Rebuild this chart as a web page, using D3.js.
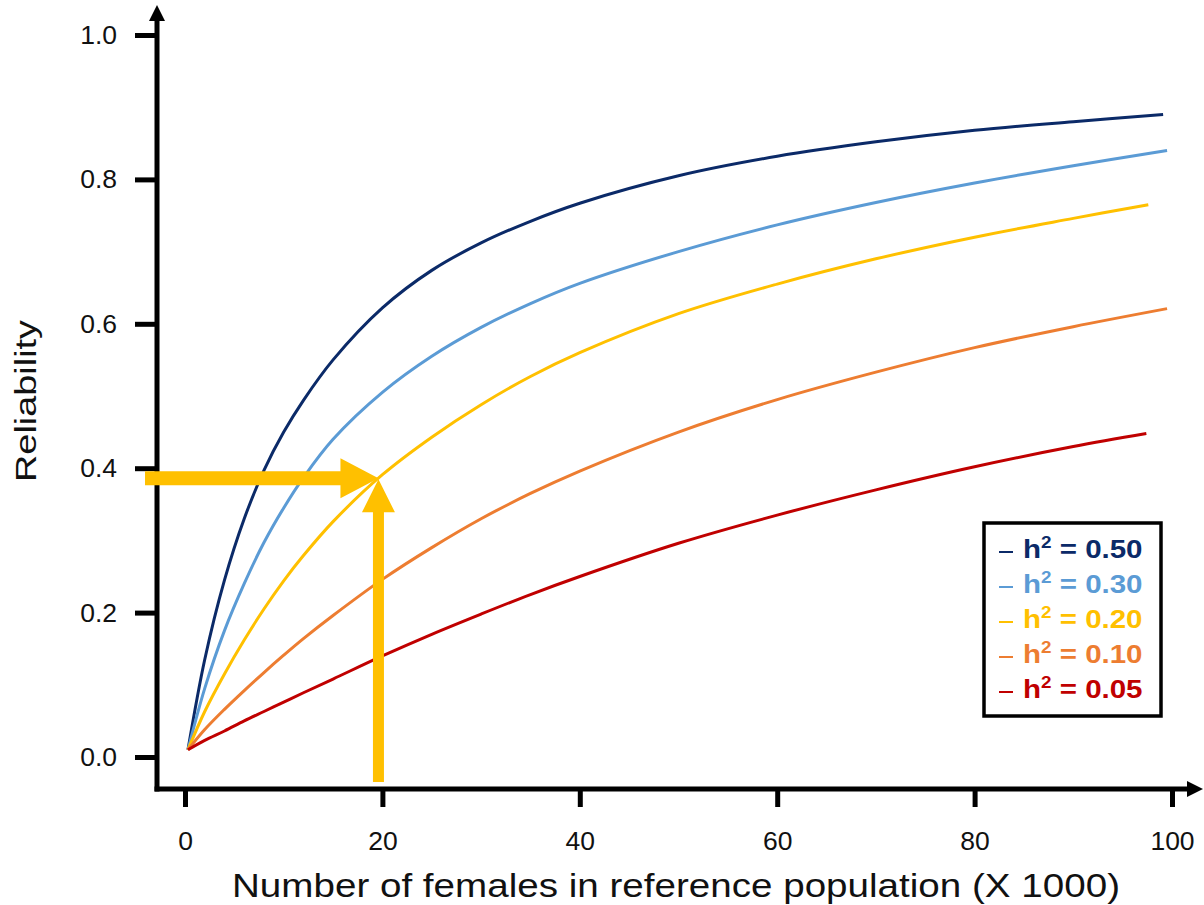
<!DOCTYPE html>
<html>
<head>
<meta charset="utf-8">
<script src="https://cdn.jsdelivr.net/npm/d3@7"></script>
<style>
    body { margin: 0; background: #fff; }
    text { font-family: "Liberation Sans", Arial, sans-serif; }
</style>
</head>
<body>
<div id="chart"></div>
<script>
// values (x in thousands of females)
var xValues = [0.3, 2, 4, 6, 8, 10, 12, 15, 20, 25, 30, 35, 40, 50, 60, 70, 80, 90];

var h50 = [0.01, 0.135, 0.245, 0.33, 0.397, 0.45, 0.494, 0.55, 0.622, 0.674, 0.712, 0.742, 0.767, 0.805, 0.832, 0.852, 0.868, 0.880];
var h30 = [0.01, 0.095, 0.175, 0.24, 0.297, 0.345, 0.387, 0.44, 0.505, 0.555, 0.595, 0.628, 0.656, 0.700, 0.737, 0.768, 0.795, 0.819];
var h20 = [0.01, 0.063, 0.115, 0.162, 0.205, 0.244, 0.279, 0.326, 0.391, 0.443, 0.488, 0.527, 0.56, 0.614, 0.655, 0.69, 0.72, 0.746];
var h10 = [0.01, 0.038, 0.066, 0.092, 0.117, 0.141, 0.164, 0.196, 0.246, 0.29, 0.33, 0.365, 0.396, 0.45, 0.495, 0.533, 0.567, 0.596];
var h05 = [0.01, 0.023, 0.036, 0.05, 0.063, 0.076, 0.089, 0.108, 0.14, 0.17, 0.198, 0.225, 0.25, 0.296, 0.335, 0.37, 0.402, 0.43];

// last point of every curve (they stop at slightly different x)
var lastX = [99.1, 99.5, 97.6, 99.5, 97.4];
var lastY = [0.890, 0.840, 0.765, 0.621, 0.448];

var seriesNames = ["0.50", "0.30", "0.20", "0.10", "0.05"];
var seriesColors = ["#0b2a68", "#5b9bd5", "#ffc000", "#ed7d31", "#c00000"];
var allSeries = [h50, h30, h20, h10, h05];

var xTicks = [0, 20, 40, 60, 80, 100];
var yTicks = [0, 0.2, 0.4, 0.6, 0.8, 1.0];

// the point the two yellow arrows meet at
var arrowPoint = { x: 19.6, y: 0.386 };

var svgWidth = 1204;
var svgHeight = 905;

var svg = d3.select("#chart")
    .append("svg")
    .attr("width", svgWidth)
    .attr("height", svgHeight);

var xScale = d3.scaleLinear().domain([0, 100]).range([185, 1172]);
var yScale = d3.scaleLinear().domain([0, 1]).range([757, 35]);

var axisX = 157;
var axisY = 789;

// axes ticks + labels
var yAxis = d3.axisLeft(yScale)
    .tickValues(yTicks)
    .tickFormat(d3.format(".1f"))
    .tickSize(20)
    .tickPadding(18);

var xAxis = d3.axisBottom(xScale)
    .tickValues(xTicks)
    .tickFormat(d3.format("d"))
    .tickSize(18)
    .tickPadding(24);

var yG = svg.append("g")
    .attr("transform", `translate(155, 0)`)
    .call(yAxis);

var xG = svg.append("g")
    .attr("transform", `translate(0, ${axisY})`)
    .call(xAxis);

[yG, xG].forEach(g => {
    g.select(".domain").remove();
    g.selectAll(".tick line").attr("stroke", "#000").attr("stroke-width", 5);
    g.selectAll(".tick text")
        .attr("fill", "#111")
        .attr("font-size", "26.5px")
        .attr("font-family", "Liberation Sans, Arial, sans-serif");
});

// axis lines with arrow heads
svg.append("line")
    .attr("x1", axisX).attr("y1", axisY + 2.5)
    .attr("x2", axisX).attr("y2", 18)
    .attr("stroke", "#000").attr("stroke-width", 5);
svg.append("path")
    .attr("d", `M${axisX - 8},21 L${axisX},5 L${axisX + 8},21 Z`)
    .attr("fill", "#000");

svg.append("line")
    .attr("x1", axisX - 2.5).attr("y1", axisY)
    .attr("x2", 1190).attr("y2", axisY)
    .attr("stroke", "#000").attr("stroke-width", 5);
svg.append("path")
    .attr("d", `M1187,${axisY - 8} L1203,${axisY} L1187,${axisY + 8} Z`)
    .attr("fill", "#000");

// axis titles
svg.append("text")
    .attr("x", 232)
    .attr("y", 897)
    .attr("font-size", "33px")
    .attr("fill", "#111")
    .attr("textLength", 888)
    .attr("lengthAdjust", "spacingAndGlyphs")
    .text("Number of females in reference population (X 1000)");

svg.append("text")
    .attr("transform", "translate(36, 482) rotate(-90)")
    .attr("font-size", "29px")
    .attr("fill", "#111")
    .attr("textLength", 162)
    .attr("lengthAdjust", "spacingAndGlyphs")
    .text("Reliability");

// curves
var line = d3.line()
    .x(d => xScale(d[0]))
    .y(d => yScale(d[1]))
    .curve(d3.curveCatmullRom.alpha(0.5));

allSeries.forEach((vals, i) => {
    var pts = xValues.map((x, j) => [x, vals[j]]);
    pts.push([lastX[i], lastY[i]]);
    svg.append("path")
        .datum(pts)
        .attr("d", line)
        .attr("fill", "none")
        .attr("stroke", seriesColors[i])
        .attr("stroke-width", 3);
});

// yellow arrows
var tx = xScale(arrowPoint.x);
var ty = yScale(arrowPoint.y);
var arrowColor = "#ffc000";

svg.append("path")
    .attr("d", `M145,${ty - 7} L${tx - 38},${ty - 7} L${tx - 38},${ty - 20} L${tx},${ty} ` +
        `L${tx - 38},${ty + 20} L${tx - 38},${ty + 7} L145,${ty + 7} Z`)
    .attr("fill", arrowColor);

svg.append("path")
    .attr("d", `M${tx - 5.5},782 L${tx - 5.5},${ty + 34} L${tx - 16.5},${ty + 34} L${tx},${ty + 1} ` +
        `L${tx + 16.5},${ty + 34} L${tx + 5.5},${ty + 34} L${tx + 5.5},782 Z`)
    .attr("fill", arrowColor);

// legend
var legend = svg.append("g");

legend.append("rect")
    .attr("x", 984).attr("y", 523)
    .attr("width", 177).attr("height", 193)
    .attr("fill", "#fff")
    .attr("stroke", "#000")
    .attr("stroke-width", 3.5);

seriesNames.forEach((name, i) => {
    var base = 558 + i * 35;
    legend.append("line")
        .attr("x1", 999).attr("x2", 1013)
        .attr("y1", base - 6).attr("y2", base - 6)
        .attr("stroke", seriesColors[i])
        .attr("stroke-width", 2);

    var t = legend.append("text")
        .attr("transform", `translate(1023, ${base}) scale(1.18, 1)`)
        .attr("font-size", "25px")
        .attr("font-weight", "bold")
        .attr("fill", seriesColors[i]);
    t.append("tspan").text("h");
    t.append("tspan").attr("font-size", "16px").attr("dy", -10).text("2");
    t.append("tspan").attr("dy", 10).text(" = " + name);
});
</script>
</body>
</html>
